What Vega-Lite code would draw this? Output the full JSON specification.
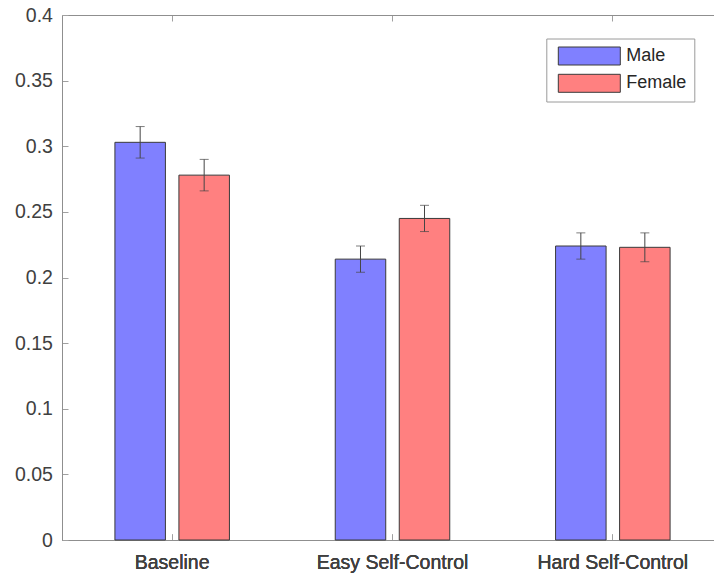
{
  "$schema": "https://vega.github.io/schema/vega-lite/v6.json",
  "width": 652,
  "height": 525,
  "autosize": {"type": "none"},
  "padding": {"left": 62, "top": 15, "right": 0, "bottom": 35},
  "background": "white",
  "config": {
    "view": {"stroke": null},
    "font": "Liberation Sans",
    "axis": {
      "domainColor": "#8f8f8f",
      "tickColor": "#a0a0a0",
      "labelColor": "#404040",
      "labelFont": "Liberation Sans",
      "grid": false,
      "title": null
    }
  },
  "data": {
    "values": [
      {"cond": "Baseline", "sex": "Male", "value": 0.303, "lo": 0.291, "hi": 0.315},
      {"cond": "Baseline", "sex": "Female", "value": 0.278, "lo": 0.266, "hi": 0.29},
      {"cond": "Easy Self-Control", "sex": "Male", "value": 0.214, "lo": 0.204, "hi": 0.224},
      {"cond": "Easy Self-Control", "sex": "Female", "value": 0.245, "lo": 0.235, "hi": 0.255},
      {"cond": "Hard Self-Control", "sex": "Male", "value": 0.224, "lo": 0.214, "hi": 0.234},
      {"cond": "Hard Self-Control", "sex": "Female", "value": 0.223, "lo": 0.212, "hi": 0.234}
    ]
  },
  "encoding": {
    "x": {
      "field": "cond",
      "type": "nominal",
      "sort": ["Baseline", "Easy Self-Control", "Hard Self-Control"],
      "scale": {"range": [0, 661], "paddingInner": 0, "paddingOuter": 0},
      "axis": {
        "orient": "bottom",
        "labelFontSize": 19.5,
        "labelAngle": 0,
        "tickSize": -6,
        "labelPadding": 19.6,
        "domainColor": "#8f8f8f"
      }
    },
    "xOffset": {
      "field": "sex",
      "type": "nominal",
      "sort": ["Male", "Female"],
      "scale": {"paddingInner": 0.211, "paddingOuter": 0.8266}
    }
  },
  "layer": [
    {
      "mark": {"type": "bar", "stroke": "#3a3a3a", "strokeWidth": 1, "opacity": 1},
      "encoding": {
        "y": {
          "field": "value",
          "type": "quantitative",
          "scale": {"domain": [0, 0.4], "nice": false, "zero": true},
          "axis": {
            "values": [0, 0.05, 0.1, 0.15, 0.2, 0.25, 0.3, 0.35, 0.4],
            "format": "~g",
            "labelFontSize": 19.5,
            "tickSize": -6,
            "labelPadding": 15.6
          }
        },
        "color": {
          "field": "sex",
          "type": "nominal",
          "sort": ["Male", "Female"],
          "scale": {"domain": ["Male", "Female"], "range": ["#8080ff", "#ff8080"]},
          "legend": {
            "orient": "none",
            "legendX": 484.3,
            "legendY": 23.5,
            "title": null,
            "symbolType": "M-0.55,-0.9L5.65,-0.9L5.65,0.9L-0.55,0.9Z",
            "symbolSize": 400,
            "symbolStrokeColor": "#3a3a3a",
            "symbolStrokeWidth": 1,
            "symbolOpacity": 1,
            "labelFontSize": 18,
            "labelColor": "#262626",
            "labelOffset": 52,
            "padding": 7,
            "rowPadding": 4.3,
            "strokeColor": "#9a9a9a",
            "fillColor": "white"
          }
        }
      }
    },
    {
      "mark": {"type": "rule", "color": "#454545", "strokeWidth": 1},
      "encoding": {
        "y": {"field": "lo", "type": "quantitative"},
        "y2": {"field": "hi"}
      }
    },
    {
      "mark": {"type": "tick", "orient": "horizontal", "size": 9, "thickness": 1, "color": "#454545"},
      "encoding": {
        "y": {"field": "lo", "type": "quantitative"}
      }
    },
    {
      "mark": {"type": "tick", "orient": "horizontal", "size": 9, "thickness": 1, "color": "#454545"},
      "encoding": {
        "x": {
          "field": "cond",
          "type": "nominal",
          "sort": ["Baseline", "Easy Self-Control", "Hard Self-Control"],
          "axis": {"orient": "top", "labels": false, "tickSize": -6, "domainColor": "#8f8f8f"}
        },
        "y": {"field": "hi", "type": "quantitative"}
      }
    }
  ]
}
